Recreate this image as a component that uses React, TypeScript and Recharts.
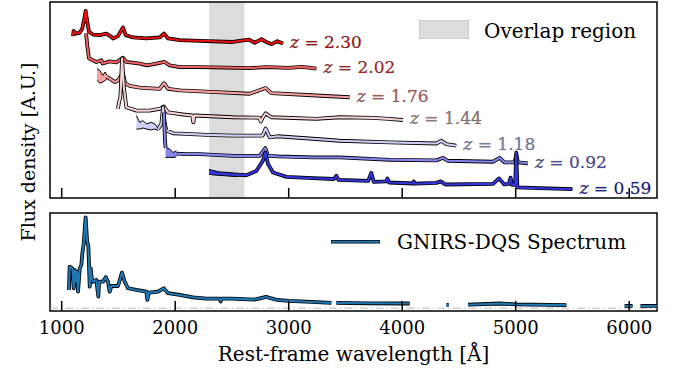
import React from 'react';
import {
  ComposedChart,
  Line,
  Area,
  XAxis,
  YAxis,
  ReferenceArea,
  ReferenceLine,
  Legend,
} from 'recharts';

const SERIF = '"DejaVu Serif", "Liberation Serif", serif';

const X_DOMAIN: [number, number] = [897, 6245];
const X_TICKS = [1000, 2000, 3000, 4000, 5000, 6000];
const OVERLAP_RANGE = [2300, 2610];

const REDSHIFTS = ['2.30', '2.02', '1.76', '1.44', '1.18', '0.92', '0.59'];
const LINE_COLORS = ['#ee1010', '#f26262', '#f7a0a0', '#f5d3d3', '#cfcff6', '#8585f0', '#3535e0'];
const LABEL_COLORS = ['#aa1111', '#b02a2a', '#b06060', '#9c8080', '#8585a8', '#5050a0', '#202090'];

// rest-frame wavelength [A], offset flux (top panel, arbitrary units 0-100)
const z230 = [
  [1100, 82.6], [1105, 85.3], [1123, 83.9], [1159, 84.3], [1182, 86.5], [1203, 92.5], [1211, 95.5],
  [1223, 90.8], [1240, 84.8], [1276, 83.4], [1335, 83.1], [1394, 83.9], [1438, 82.2], [1452, 81.4],
  [1496, 82.6], [1540, 87.0], [1564, 83.1], [1628, 81.9], [1746, 81.4], [1863, 81.9], [1901, 83.9],
  [1937, 81.4], [2040, 80.5], [2216, 80.2], [2507, 79.6], [2650, 80.8], [2700, 79.2], [2760, 81.0],
  [2803, 79.6], [2850, 78.5], [2900, 80.0], [2950, 78.8],
];
const z202 = [
  [1215, 84.0], [1225, 77.9], [1240, 71.3], [1305, 69.4], [1350, 70.3], [1360, 68.6], [1423, 69.7],
  [1482, 69.2], [1540, 71.6], [1570, 69.4], [1687, 68.6], [1752, 67.7], [1834, 68.6], [1907, 69.4],
  [1951, 67.7], [2040, 66.8], [2216, 66.8], [2656, 66.3], [2803, 66.8], [3000, 66.4], [3120, 66.9],
  [3244, 66.0],
];
const z176 = [
  [1399, 61.8], [1423, 60.9], [1470, 59.1], [1496, 60.0], [1518, 62.0], [1540, 63.5], [1560, 58.5],
  [1600, 57.2], [1687, 56.3], [1863, 55.7], [1901, 58.6], [1937, 55.7], [2040, 54.9], [2363, 54.0],
  [2656, 53.2], [2797, 56.1], [2847, 53.5], [3244, 52.3], [3537, 51.4],
];
const z144 = [
  [1496, 45.5], [1505, 48.9], [1517, 51.4], [1532, 71.1], [1547, 56.6], [1570, 46.3], [1658, 44.6],
  [1775, 44.6], [1863, 45.5], [1901, 46.7], [1937, 43.7], [2069, 42.6], [2150, 42.1], [2160, 38.6],
  [2170, 42.1], [2509, 41.2], [2740, 41.0], [2755, 39.0], [2770, 41.0], [2797, 43.2], [2847, 41.2],
  [3244, 40.4], [3449, 41.2], [3740, 40.9], [3850, 40.5], [4007, 39.8],
];
const z118 = [
  [1849, 35.1], [1878, 37.8], [1893, 46.3], [1907, 38.6], [1922, 34.4], [1981, 33.0], [2099, 32.7],
  [2275, 32.2], [2509, 31.8], [2770, 31.8], [2797, 35.5], [2833, 30.9], [2900, 31.5], [3244, 30.1],
  [3449, 29.2], [3890, 28.4], [4301, 27.8], [4345, 29.2], [4389, 27.5], [4477, 26.7],
];
const z092 = [
  [1900, 43.6], [1910, 29.2], [1916, 25.5], [1960, null], [2010, 22.6], [2099, 22.4], [2216, 22.4],
  [2509, 21.5], [2744, 21.5], [2794, 25.5], [2818, 21.5], [2906, 21.2], [3214, 20.7], [3449, 20.7],
  [3890, 19.5], [4301, 19.2], [4360, 20.5], [4400, 19.0], [4800, 18.5], [4859, 20.5], [4900, 18.2],
  [4990, 18.2], [5006, 22.1], [5020, 18.2], [5108, 17.7],
];
const z059 = [
  [2560, 11.8], [2627, 11.6], [2715, 13.8], [2773, 19.0], [2794, 23.2], [2818, 17.3], [2862, 13.0],
  [2980, 10.8], [3214, 10.1], [3400, 9.7], [3420, 11.3], [3440, 9.2], [3700, 8.7], [3728, 12.8],
  [3750, 8.2], [3860, 8.5], [3870, 10.0], [3885, 7.9], [4096, 7.4], [4102, 8.5], [4110, 7.3],
  [4300, 7.7], [4340, 8.5], [4380, 6.9], [4800, 7.2], [4853, 10.0], [4900, 6.9], [4940, 7.2],
  [4955, 10.4], [4968, 6.7], [4995, 6.7], [5005, 23.1], [5015, 5.4], [5211, 5.0], [5500, 4.5],
];

// noisy stretches drawn as filled envelopes: [wavelength, low, high]
const blob176 = [[1311, 60.0, 66.0], [1336, 58.6, 65.1], [1362, 59.1, 62.6], [1383, 60.0, 64.3], [1399, 60.9, 62.6]];
const blob118 = [
  [1658, 35.2, 42.1], [1687, 35.2, 38.6], [1717, 35.7, 39.5], [1746, 35.2, 37.8],
  [1790, 34.7, 38.6], [1820, 35.2, 37.8], [1849, 34.4, 35.7],
];
const blob092 = [[1915, 20.7, 25.8], [1951, 20.7, 25.0], [1981, 20.7, 23.2], [2010, 21.0, 24.1]];
const blob059 = [
  [2298, 12.1, 14.6], [2330, 11.8, 14.1], [2392, 11.5, 13.3], [2450, 11.3, 13.1],
  [2509, 11.0, 12.8], [2560, 11.0, 12.6],
];

// GNIRS-DQS spectrum (bottom panel), nulls are gaps
const gnirs = [
  [1064, 0.19], [1070, 0.436], [1094, 0.419], [1106, 0.209], [1115, 0.401], [1129, 0.278], [1135, 0.383],
  [1144, 0.173], [1159, 0.419], [1173, 0.454], [1182, 0.577], [1194, 0.682], [1211, 0.955], [1223, 0.716],
  [1235, 0.646], [1247, 0.226], [1256, 0.419], [1264, 0.314], [1276, 0.278], [1305, 0.296], [1323, 0.121],
  [1329, 0.278], [1364, 0.278], [1388, 0.325], [1408, 0.278], [1423, 0.173], [1438, 0.233], [1496, 0.233],
  [1531, 0.373], [1555, 0.278], [1584, 0.209], [1658, 0.191], [1746, 0.173], [1755, 0.086], [1769, 0.163],
  [1849, 0.173], [1899, 0.209], [1937, 0.157], [2040, 0.139], [2157, 0.114], [2275, 0.1], [2392, 0.1],
  [2400, 0.07], [2410, 0.1], [2500, 0.1], [2700, 0.09], [2800, 0.118], [2900, 0.086], [3000, 0.076],
  [3200, 0.065], [3376, 0.055], [3398, null], [3420, 0.055], [3700, 0.051], [4066, 0.049], [4200, null],
  [4390, 0.034], [4410, 0.034], [4500, null], [4580, 0.036], [4861, 0.049], [5000, 0.039], [5447, 0.032],
  [5700, null], [5960, 0.023], [6030, 0.023], [6065, null], [6100, 0.023], [6250, 0.023],
];

const toPts = (arr: (number | null)[][]) => arr.map(([w, f]) => ({ w, f }));
const toRange = (arr: number[][]) => arr.map(([w, lo, hi]) => ({ w, r: [lo, hi] }));

const spectra = [
  { data: z230, blob: null },
  { data: z202, blob: null },
  { data: z176, blob: blob176 },
  { data: z144, blob: null },
  { data: z118, blob: blob118 },
  { data: z092, blob: blob092 },
  { data: z059, blob: blob059 },
].map((s, i) => ({
  z: REDSHIFTS[i],
  color: LINE_COLORS[i],
  labelColor: LABEL_COLORS[i],
  pts: toPts(s.data),
  blob: s.blob ? toRange(s.blob) : null,
}));

const overlapBand = OVERLAP_RANGE.map((w) => ({ w, r: [0, 100] }));
const gnirsPts = toPts(gnirs);

const zLabel = (z: string, color: string, last: number) => (p: any) => {
  if (p.index !== last) return null;
  return (
    <text
      x={p.x + 7}
      y={p.y - 1.5}
      dy="0.35em"
      fill={color}
      stroke="#000"
      strokeOpacity={0.35}
      strokeWidth={0.5}
      fontSize={17}
      fontFamily={SERIF}
    >
      <tspan fontStyle="italic">z</tspan>
      {' = '}
      {z}
    </text>
  );
};

const OverlapLegend = () => (
  <svg width={240} height={28}>
    <rect x={0.5} y={3.5} width={49} height={18} fill="#dcdcdc" stroke="#cccccc" />
    <text x={65} y={21} fontSize={20} fontFamily={SERIF} fill="#000">
      Overlap region
    </text>
  </svg>
);

const GnirsLegend = () => (
  <svg width={320} height={28}>
    <line x1={0} x2={49} y1={13.7} y2={13.7} stroke="#000" strokeWidth={3.4} />
    <line x1={0.5} x2={48.5} y1={13.7} y2={13.7} stroke="#1f77b4" strokeWidth={2} />
    <text x={66} y={21} fontSize={20} fontFamily={SERIF} fill="#000">
      GNIRS-DQS Spectrum
    </text>
  </svg>
);

export default function App() {
  return (
    <div style={{ position: 'absolute', left: 0, top: 0, width: 676, height: 371, background: '#fff' }}>
      <div style={{ position: 'absolute', left: 0, top: 0 }}>
        <ComposedChart width={676} height={200} margin={{ top: 2, right: 19, bottom: 1, left: 50 }}>
          <XAxis
            dataKey="w"
            type="number"
            domain={X_DOMAIN}
            allowDataOverflow
            ticks={X_TICKS}
            interval={0}
            height={1}
            tickSize={-10}
            tickFormatter={() => ''}
            axisLine={false}
            tickLine={{ stroke: '#000', strokeWidth: 1.5 }}
          />
          <YAxis type="number" domain={[0, 100]} allowDataOverflow hide />
          <Area
            data={overlapBand}
            dataKey="r"
            stroke="none"
            fill="#dcdcdc"
            fillOpacity={1}
            isAnimationActive={false}
          />
          {spectra.map((s) => (
            <React.Fragment key={s.z}>
              {s.blob && (
                <Area
                  data={s.blob}
                  dataKey="r"
                  stroke="#000"
                  strokeWidth={1}
                  fill={s.color}
                  fillOpacity={1}
                  isAnimationActive={false}
                />
              )}
              <Line
                data={s.pts}
                dataKey="f"
                stroke="#000"
                strokeWidth={3.8}
                strokeLinejoin="round"
                dot={false}
                activeDot={false}
                isAnimationActive={false}
              />
              <Line
                data={s.pts}
                dataKey="f"
                stroke={s.color}
                strokeWidth={2.1}
                strokeLinejoin="round"
                dot={false}
                activeDot={false}
                isAnimationActive={false}
                label={zLabel(s.z, s.labelColor, s.pts.length - 1)}
              />
            </React.Fragment>
          ))}
          <ReferenceArea x1={X_DOMAIN[0]} x2={X_DOMAIN[1]} y1={0} y2={100} fill="none" stroke="#000" strokeWidth={1.5} />
          <Legend
            layout="horizontal"
            align="center"
            verticalAlign="middle"
            content={() => <OverlapLegend />}
            wrapperStyle={{ left: 419, top: 17, width: 240, height: 28 }}
          />
        </ComposedChart>
      </div>

      <div style={{ position: 'absolute', left: 0, top: 200 }}>
        <ComposedChart width={676} height={171} margin={{ top: 13, right: 19, bottom: 0, left: 50 }}>
          <XAxis
            dataKey="w"
            type="number"
            domain={X_DOMAIN}
            allowDataOverflow
            ticks={X_TICKS}
            interval={0}
            height={60}
            tickSize={-10}
            tickMargin={20}
            axisLine={false}
            tickLine={{ stroke: '#000', strokeWidth: 1.5 }}
            tick={{ fill: '#000', fontSize: 18, fontFamily: SERIF }}
            label={{
              value: 'Rest-frame wavelength [Å]',
              position: 'insideBottom',
              offset: 10,
              fill: '#000',
              fontSize: 20,
              fontFamily: SERIF,
            }}
          />
          <YAxis type="number" domain={[-0.03, 1]} allowDataOverflow hide />
          <ReferenceLine y={0} stroke="#b8b8b8" strokeWidth={1} strokeDasharray="8 3 1.5 3" />
          <Line
            data={gnirsPts}
            dataKey="f"
            stroke="#000"
            strokeWidth={3.8}
            strokeLinejoin="round"
            dot={false}
            activeDot={false}
            isAnimationActive={false}
          />
          <Line
            data={gnirsPts}
            dataKey="f"
            name="GNIRS-DQS Spectrum"
            stroke="#1f77b4"
            strokeWidth={2.1}
            strokeLinejoin="round"
            dot={false}
            activeDot={false}
            isAnimationActive={false}
          />
          <ReferenceArea x1={X_DOMAIN[0]} x2={X_DOMAIN[1]} y1={-0.03} y2={1} fill="none" stroke="#000" strokeWidth={1.5} />
          <Legend
            layout="horizontal"
            align="center"
            verticalAlign="middle"
            content={() => <GnirsLegend />}
            wrapperStyle={{ left: 331, top: 28, width: 320, height: 28 }}
          />
        </ComposedChart>
      </div>

      <svg width={40} height={371} style={{ position: 'absolute', left: 0, top: 0 }}>
        <text
          x={35}
          y={152}
          transform="rotate(-90, 35, 152)"
          textAnchor="middle"
          fontSize={19}
          fontFamily={SERIF}
          fill="#000"
        >
          Flux density [A.U.]
        </text>
      </svg>
    </div>
  );
}
